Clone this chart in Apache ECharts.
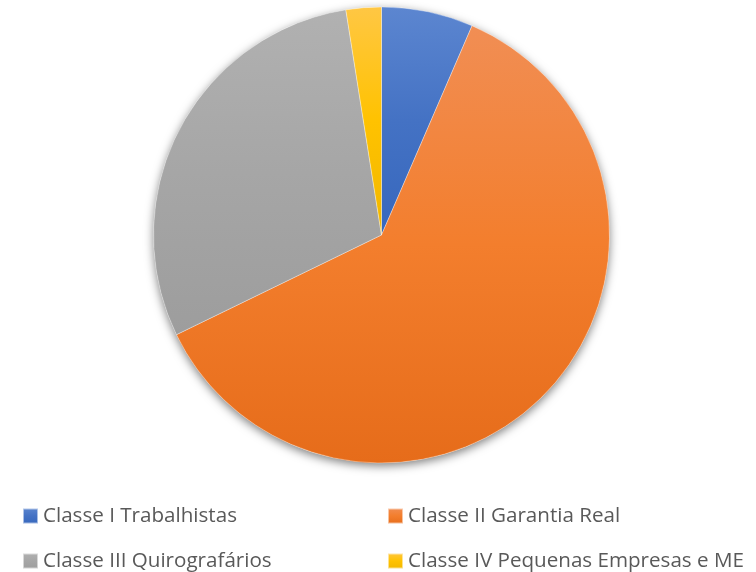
<!DOCTYPE html>
<html>
<head>
<meta charset="utf-8">
<script src="https://cdn.jsdelivr.net/npm/echarts@6/dist/echarts.min.js"></script>
<style>
html,body{margin:0;padding:0;background:#fff;}
#chart{width:756px;height:572px;}
</style>
</head>
<body>
<div id="chart"></div>
<script>
const categories = ['Classe I Trabalhistas', 'Classe II Garantia Real', 'Classe III Quirografários', 'Classe IV Pequenas Empresas e ME'];
const values = [6.5, 61.3, 29.7, 2.5];
const gradientStops = [
  ['#5C86D0', '#4472C4', '#3667BD'],
  ['#F18E54', '#F37E2D', '#E66C1A'],
  ['#B1B1B1', '#A6A6A6', '#9D9D9D'],
  ['#FFC744', '#FFC200', '#F1B700']
];

function grad(stops) {
  return new echarts.graphic.LinearGradient(0, 0, 0, 1, [
    { offset: 0, color: stops[0] },
    { offset: 0.5, color: stops[1] },
    { offset: 1, color: stops[2] }
  ]);
}

const chart = echarts.init(document.getElementById('chart'), null, { renderer: 'canvas' });
const pieData = categories.map((c, i) => ({
  name: c,
  value: values[i],
  itemStyle: { color: grad(gradientStops[i]) }
}));

chart.setOption({
  animation: false,
  backgroundColor: '#ffffff',
  color: gradientStops.map(s => s[1]),
  legend: {
    data: categories.map((c, i) => ({ name: c, itemStyle: { color: grad(gradientStops[i]) } })),
    left: 22,
    top: 501,
    width: 730,
    padding: 0,
    orient: 'horizontal',
    itemWidth: 15,
    itemHeight: 15,
    itemGap: 15,
    icon: 'rect',
    selectedMode: false,
    textStyle: {
      fontFamily: 'Open Sans',
      fontSize: 20.6,
      color: '#595959',
      width: 329,
      lineHeight: 30
    }
  },
  series: [
    {
      type: 'pie',
      center: [381.5, 235],
      radius: 228,
      silent: true,
      z: 1,
      label: { show: false },
      labelLine: { show: false },
      itemStyle: {
        color: '#ffffff',
        shadowBlur: 10,
        shadowOffsetY: 3,
        shadowColor: 'rgba(0,0,0,0.5)'
      },
      data: [{ name: '_shadow', value: 1 }]
    },
    {
      type: 'pie',
      center: [381.5, 235],
      radius: 228,
      startAngle: 90,
      clockwise: true,
      z: 2,
      label: { show: false },
      labelLine: { show: false },
      emphasis: { disabled: true },
      itemStyle: {
        borderColor: 'rgba(255,255,255,0.55)',
        borderWidth: 0.6
      },
      data: pieData
    }
  ]
});
</script>
</body>
</html>
